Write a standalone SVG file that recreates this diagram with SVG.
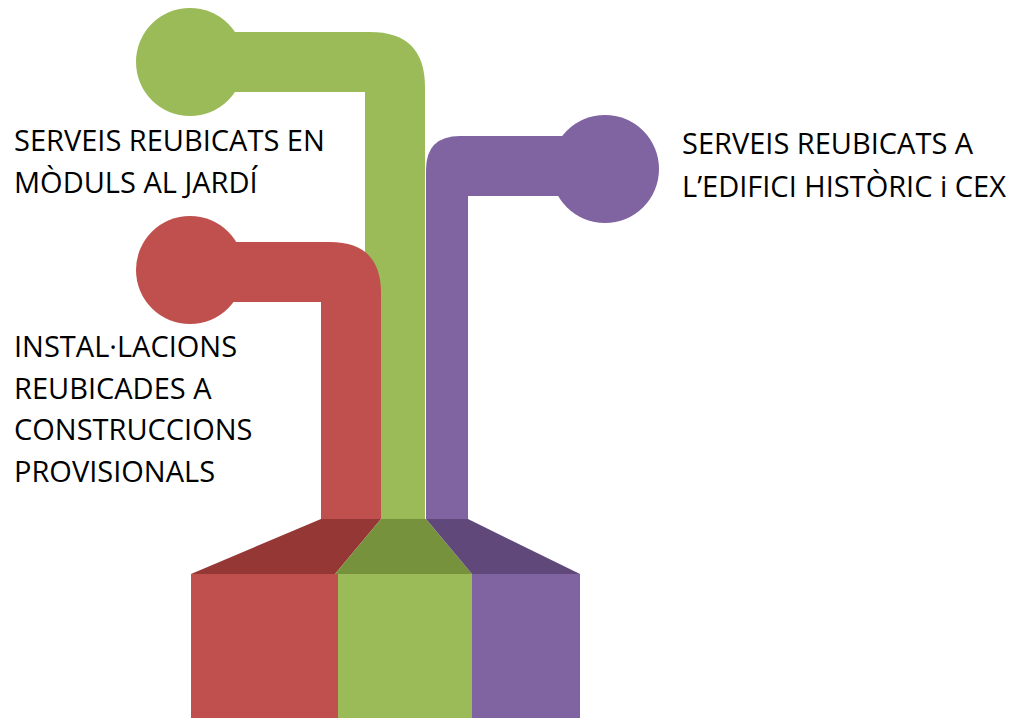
<svg xmlns="http://www.w3.org/2000/svg" width="1025" height="718" viewBox="0 0 1025 718">
<style>
.t{font-family:"Open Sans","Liberation Sans",sans-serif;font-size:29px;fill:#000}
.r{fill:#c0504d}.g{fill:#9bbb59}.p{fill:#8064a2}
</style>
<rect width="1025" height="718" fill="#fff"/>
<g id="connectors">
<path class="p" d="M426 519V170Q426 136 460 136H600V196H468V519Z"/>
<path class="g" d="M365 519V92H190V32H370Q425 32 425 87V519Z"/>
<path class="r" d="M321 519V302H190V242H330Q381 242 381 293V519Z"/>
</g>
<g id="node-green"><circle class="g" cx="190" cy="62" r="54"/><text class="t" x="14" y="151">SERVEIS REUBICATS EN</text><text class="t" x="14" y="193">MÒDULS AL JARDÍ</text></g>
<g id="node-purple"><circle class="p" cx="605" cy="169" r="54"/><text class="t" x="682" y="154">SERVEIS REUBICATS A</text><text class="t" x="682" y="197">L’EDIFICI HISTÒRIC i CEX</text></g>
<g id="node-red"><circle class="r" cx="190" cy="270" r="54"/><text class="t" x="14" y="357">INSTAL·LACIONS</text><text class="t" x="14" y="399">REUBICADES A</text><text class="t" x="14" y="440">CONSTRUCCIONS</text><text class="t" x="14" y="482">PROVISIONALS</text></g>
<g id="base">
<path fill="#953735" d="M321 519H381L335 574H191Z"/>
<path fill="#76923c" d="M381 519H426L472 574H335Z"/>
<path fill="#60497a" d="M426 519H468L580 574H472Z"/>
<rect class="r" x="191" y="574" width="147" height="144"/>
<rect class="g" x="338" y="574" width="134" height="144"/>
<rect class="p" x="472" y="574" width="108" height="144"/>
</g>
</svg>
